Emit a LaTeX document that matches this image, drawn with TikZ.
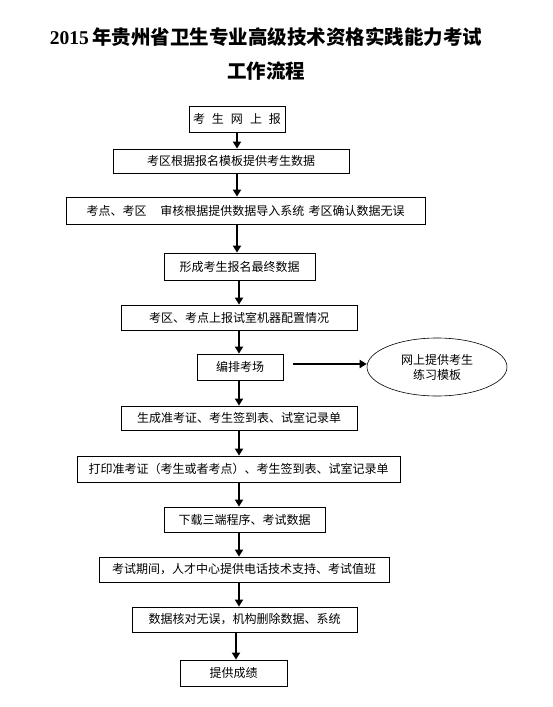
\documentclass[tikz,border=0pt]{standalone}
\usepackage{fontspec}
\newfontfamily\cjk{Noto Sans CJK SC}
\newfontfamily\ttlnum{Liberation Serif}
\usetikzlibrary{shapes.geometric,arrows.meta}
\begin{document}
\begin{tikzpicture}[x=1pt,y=-1pt,
 box/.style={draw,line width=0.8pt,inner sep=0pt,align=center,font=\cjk\fontsize{12}{15}\selectfont},
 ttl/.style={inner sep=0pt,font=\cjk\bfseries\fontsize{19.5}{24}\selectfont},
 arr/.style={line width=1.8pt,-{Triangle[length=7pt,width=8pt]}}]
\useasboundingbox[fill=white] (0,0) rectangle (552,707);
\node[ttl] (t1) at (266,37) {{\ttlnum\bfseries 2015}\,年贵州省卫生专业高级技术资格实践能力考试};
\node[ttl] (t2) at (266,71) {工作流程};

\node[box,minimum width=96pt,minimum height=26pt] (b1) at (237,119) {考\hspace{7pt}生\hspace{7pt}网\hspace{7pt}上\hspace{7pt}报};
\node[box,minimum width=236pt,minimum height=24pt] (b2) at (231,161) {考区根据报名模板提供考生数据};
\node[box,minimum width=359pt,minimum height=27pt] (b3) at (245.5,210.5) {考点、考区\hspace{14pt}审核根据提供数据导入系统\hspace{4pt}考区确认数据无误};
\node[box,minimum width=151pt,minimum height=27pt] (b4) at (239.5,266.5) {形成考生报名最终数据};
\node[box,minimum width=236pt,minimum height=25pt] (b5) at (239,317.5) {考区、考点上报试室机器配置情况};
\node[box,minimum width=86pt,minimum height=26pt] (b6) at (240,367) {编排考场};
\node[box,ellipse,line width=0.6pt,minimum width=140pt,minimum height=58pt] (ell) at (437,367) {网上提供考生\\练习模板};
\node[box,minimum width=236pt,minimum height=24pt] (b7) at (239,418) {生成准考证、考生签到表、试室记录单};
\node[box,minimum width=323pt,minimum height=26pt] (b8) at (238.5,469) {打印准考证（考生或者考点）、考生签到表、试室记录单};
\node[box,minimum width=161pt,minimum height=25pt] (b9) at (244.5,519.5) {下载三端程序、考试数据};
\node[box,minimum width=290pt,minimum height=25pt] (b10) at (244,569.5) {考试期间，人才中心提供电话技术支持、考试值班};
\node[box,minimum width=225pt,minimum height=25pt] (b11) at (244.5,619.5) {数据核对无误，机构删除数据、系统};
\node[box,minimum width=107pt,minimum height=26pt] (b12) at (233.5,673) {提供成绩};

\coordinate (ca) at (237,0);
\coordinate (cb) at (239,0);
\coordinate (cc) at (236,0);
\draw[arr] (b1.south -| ca) -- (b2.north -| ca);
\draw[arr] (b2.south -| ca) -- (b3.north -| ca);
\draw[arr] (b3.south -| ca) -- (b4.north -| ca);
\draw[arr] (b4.south -| cb) -- (b5.north -| cb);
\draw[arr] (b5.south -| cb) -- (b6.north -| cb);
\draw[arr] (b6.south -| cb) -- (b7.north -| cb);
\draw[arr] (b7.south -| cb) -- (b8.north -| cb);
\draw[arr] (b8.south -| cb) -- (b9.north -| cb);
\draw[arr] (b9.south -| cb) -- (b10.north -| cb);
\draw[arr] (b10.south -| cb) -- (b11.north -| cb);
\draw[arr] (b11.south -| cc) -- (b12.north -| cc);
\coordinate (es) at (293,364);
\draw[arr] (es) -- (es -| ell.west);
\end{tikzpicture}
\end{document}
